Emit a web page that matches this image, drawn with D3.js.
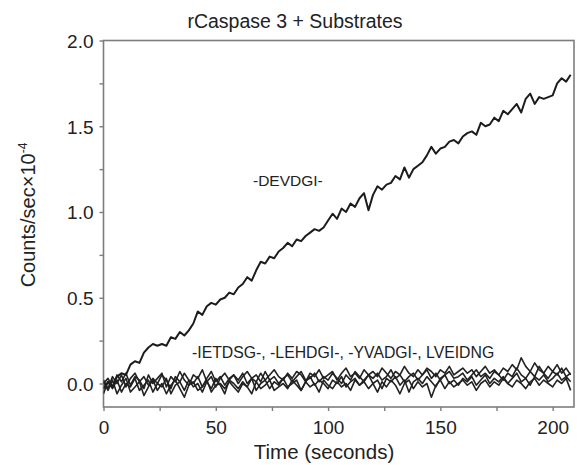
<!DOCTYPE html>
<html><head><meta charset="utf-8">
<script src="https://cdn.jsdelivr.net/npm/d3@7"></script>
<style>body{margin:0;background:#fff}svg{display:block;font-family:"Liberation Sans",Arial,sans-serif}</style>
</head><body><svg id="c" width="579" height="465"></svg>
<script>
const times = [0,2,4,6,8,10,12,14,16,18,20,22,24,26,28,30,32,34,36,38,40,42,44,46,48,50,52,54,56,58,60,62,64,66,68,70,72,74,76,78,80,82,84,86,88,90,92,94,96,98,100,102,104,106,108,110,112,114,116,118,120,122,124,126,128,130,132,134,136,138,140,142,144,146,148,150,152,154,156,158,160,162,164,166,168,170,172,174,176,178,180,182,184,186,188,190,192,194,196,198,200,202,204,206,208];
const devdgi = [-0.03,0.01,-0.02,0.04,0.06,0.05,0.11,0.13,0.12,0.18,0.21,0.23,0.22,0.23,0.22,0.27,0.26,0.30,0.28,0.31,0.35,0.42,0.40,0.45,0.47,0.46,0.49,0.50,0.53,0.52,0.56,0.58,0.62,0.60,0.66,0.71,0.70,0.74,0.73,0.77,0.79,0.82,0.80,0.84,0.83,0.86,0.88,0.90,0.89,0.91,0.95,0.99,0.96,1.02,1.00,1.05,1.03,1.08,1.11,1.01,1.10,1.15,1.13,1.16,1.17,1.21,1.19,1.26,1.20,1.25,1.27,1.29,1.33,1.38,1.34,1.37,1.38,1.41,1.42,1.40,1.44,1.46,1.47,1.45,1.52,1.50,1.51,1.55,1.53,1.59,1.57,1.60,1.63,1.58,1.66,1.69,1.63,1.67,1.66,1.67,1.68,1.75,1.78,1.76,1.80];
const ietdsg = [0.00,0.03,-0.02,0.05,0.01,0.06,-0.01,0.04,0.02,-0.03,0.05,0.00,0.03,0.06,-0.02,0.04,0.01,0.07,0.02,-0.01,0.05,0.03,0.08,0.01,0.04,-0.02,0.03,0.06,0.02,0.05,0.00,0.04,0.07,0.03,0.01,0.06,0.02,0.05,0.08,0.04,0.02,0.06,0.03,0.07,0.05,0.01,0.06,0.04,0.08,0.03,0.05,0.07,0.02,0.06,0.09,0.04,0.06,0.03,0.08,0.05,0.07,0.04,0.09,0.06,0.03,0.07,0.05,0.10,0.06,0.04,0.08,0.05,0.09,0.07,0.04,0.08,0.06,0.10,0.05,0.07,0.09,0.06,0.08,0.04,0.07,0.10,0.06,0.08,0.05,0.09,0.07,0.11,0.08,0.15,0.10,0.07,0.12,0.08,0.06,0.10,0.07,0.11,0.06,0.09,0.05];
const lehdgi = [0.02,-0.03,0.04,0.00,0.05,-0.02,0.03,0.06,0.01,0.04,-0.01,0.03,0.00,0.05,0.02,-0.03,0.04,0.01,0.06,0.02,0.00,0.04,-0.02,0.03,0.07,0.01,0.04,-0.01,0.03,0.05,0.02,0.06,0.00,0.03,0.05,0.01,0.07,0.02,0.04,0.00,0.03,0.05,0.01,0.04,0.07,0.02,0.03,0.06,0.01,0.04,0.02,0.06,0.03,0.00,0.05,0.02,0.07,0.04,0.01,0.05,0.03,0.06,0.02,0.04,0.08,0.03,0.05,0.01,0.04,0.06,0.02,0.05,0.08,0.03,0.06,0.02,0.05,0.07,0.03,0.04,0.06,0.02,0.05,0.08,0.04,0.06,0.03,0.07,0.05,0.02,0.06,0.04,0.09,0.05,0.03,0.07,0.04,0.10,0.06,0.03,0.07,0.05,0.09,0.04,0.06];
const yvadgi = [-0.06,0.01,-0.03,0.02,-0.05,0.00,-0.02,0.03,-0.04,-0.01,0.02,-0.05,0.00,-0.02,0.03,-0.06,-0.01,0.01,-0.04,0.02,-0.02,0.00,-0.05,0.01,-0.03,0.03,-0.01,-0.06,0.02,0.00,-0.03,0.01,-0.02,0.03,-0.04,0.00,0.02,-0.03,0.01,-0.01,0.03,-0.02,0.00,0.02,-0.04,0.01,0.04,-0.01,0.02,0.00,-0.03,0.02,0.00,0.04,-0.02,0.01,0.03,-0.01,0.02,0.05,0.00,0.02,-0.03,0.03,0.01,0.04,-0.01,0.02,-0.05,0.01,0.03,0.00,0.04,0.01,-0.02,0.03,0.05,0.00,0.02,-0.01,0.03,0.01,0.04,-0.01,0.02,0.05,0.00,0.03,0.01,0.04,0.00,0.03,0.06,0.01,0.03,-0.01,0.04,0.02,0.05,0.01,0.03,0.06,0.02,0.04,0.01];
const lveidng = [0.01,-0.04,0.02,-0.06,-0.01,0.03,-0.05,-0.02,0.01,-0.07,-0.02,0.02,-0.04,0.00,-0.06,-0.01,0.02,-0.03,-0.08,-0.01,0.01,-0.04,-0.02,0.02,-0.05,-0.01,0.00,-0.03,0.01,-0.02,-0.05,0.00,-0.02,-0.06,0.01,-0.03,-0.01,0.02,-0.04,-0.02,0.00,-0.03,0.02,-0.01,-0.04,0.01,-0.02,0.00,-0.05,0.02,-0.01,-0.03,0.01,-0.02,0.00,-0.04,0.02,-0.01,0.01,-0.03,0.00,-0.05,0.01,-0.02,0.02,-0.01,-0.06,0.00,0.02,-0.03,0.01,-0.02,0.00,-0.08,-0.01,0.02,-0.03,0.01,-0.02,0.00,0.02,-0.01,0.01,-0.04,0.00,0.02,-0.02,0.01,-0.01,0.03,0.00,-0.02,0.02,0.00,-0.03,0.01,0.03,-0.01,0.02,0.00,-0.02,0.02,0.00,0.03,-0.04];
const xTicks = [0,50,100,150,200];
const xMinor = [25,75,125,175];
const yTicks = [0.0,0.5,1.0,1.5,2.0];
const yMinor = [0.25,0.75,1.25,1.75];
const title = "rCaspase 3 + Substrates";
const xTitle = "Time (seconds)";
const labelTop = "-DEVDGI-";
const labelBottom = "-IETDSG-, -LEHDGI-, -YVADGI-, LVEIDNG";

const svg = d3.select("#c");
const L=103.5, R=574, T=40.5, B=407;
const x = d3.scaleLinear().domain([0,209.5]).range([L,R]);
const y = d3.scaleLinear().domain([-0.137,2.0]).range([B,T]);
const axisCol = "#7d7d7d";

svg.append("rect").attr("x",L).attr("y",T).attr("width",R-L).attr("height",B-T)
  .attr("fill","none").attr("stroke",axisCol).attr("stroke-width",1.6);

const xa = svg.append("g").attr("transform",`translate(0,${B})`)
  .call(d3.axisBottom(x).tickValues(xTicks.concat(xMinor)).tickSize(4).tickFormat(d=>xTicks.includes(d)?d3.format("d")(d):""));
const ya = svg.append("g").attr("transform",`translate(${L},0)`)
  .call(d3.axisLeft(y).tickValues(yTicks.concat(yMinor)).tickSize(4).tickFormat(d=>yTicks.includes(d)?d3.format(".1f")(d):""));
[xa,ya].forEach(g=>{
  g.select(".domain").remove();
  g.selectAll(".tick line").attr("stroke",axisCol).attr("stroke-width",1.4);
  g.selectAll(".tick text").attr("fill","#222").attr("font-size",19).attr("font-family","Liberation Sans, Arial, sans-serif");
});
xa.selectAll(".tick text").attr("dy",null).attr("y",27);
ya.selectAll(".tick text").attr("x",-10).attr("dy","0.36em");

const line = d3.line().x((d,i)=>x(times[i])).y(d=>y(d));
svg.append("clipPath").attr("id","pc").append("rect").attr("x",L).attr("y",T).attr("width",R-L).attr("height",B-T);
const g = svg.append("g").attr("clip-path","url(#pc)");
[lveidng,yvadgi,lehdgi,ietdsg].forEach(s=>{
  g.append("path").datum(s.slice(0,times.length)).attr("d",line).attr("fill","none")
   .attr("stroke","#222").attr("stroke-width",1.6).attr("stroke-linejoin","round");
});
g.append("path").datum(devdgi.slice(0,times.length)).attr("d",line).attr("fill","none")
  .attr("stroke","#1c1c1c").attr("stroke-width",2).attr("stroke-linejoin","round");

svg.append("text").attr("x",295).attr("y",28).attr("text-anchor","middle").attr("font-size",19.5).attr("fill","#222").text(title);
svg.append("text").attr("x",324).attr("y",459).attr("text-anchor","middle").attr("font-size",20.5).attr("fill","#222").text(xTitle);
const yt = svg.append("text").attr("transform","translate(35,215) rotate(-90)").attr("text-anchor","middle").attr("font-size",20).attr("fill","#222");
yt.append("tspan").text("Counts/sec×10");
yt.append("tspan").attr("font-size",12).attr("dy",-8).text("-4");
svg.append("text").attr("x",253).attr("y",186).attr("font-size",15.5).attr("fill","#222").text(labelTop);
svg.append("text").attr("x",192).attr("y",358).attr("font-size",15.8).attr("fill","#222").text(labelBottom);
</script></body></html>
